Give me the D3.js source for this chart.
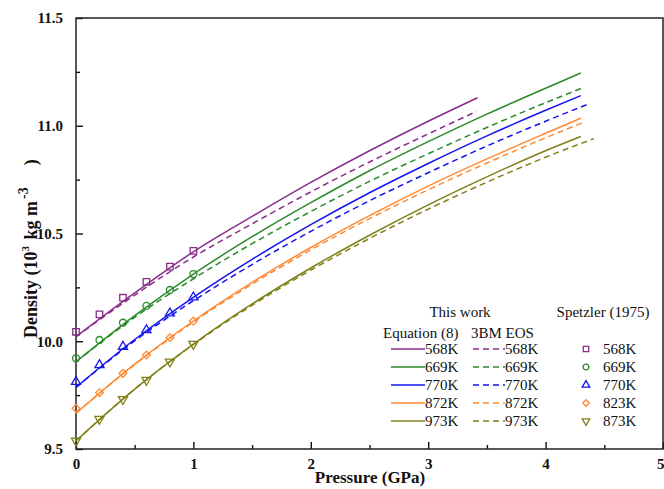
<!DOCTYPE html>
<html><head><meta charset="utf-8">
<script src="https://cdn.jsdelivr.net/npm/d3@7"></script>
<style>
body{margin:0;background:#fff;}
svg text{font-family:"Liberation Serif","Times New Roman",serif;}
</style></head>
<body><svg id="c" width="664" height="489"></svg>
<script>
// ---- data ----
const temps = ["568K","669K","770K","872K","973K"];
const spetzTemps = ["568K","669K","770K","823K","873K"];
const colors = ["#8b2c8b","#2a8a2a","#1414f0","#ff8a33","#808018"];

// Equation (8) solid lines: pressure (GPa) and density (10^3 kg m^-3)
const eqP = [
  [0,0.5,1,1.5,2,2.5,3,3.42],
  [0,0.5,1,1.5,2,2.5,3,3.5,4,4.3],
  [0,0.5,1,1.5,2,2.5,3,3.5,4,4.3],
  [0,0.5,1,1.5,2,2.5,3,3.5,4,4.3],
  [0,0.5,1,1.5,2,2.5,3,3.5,4,4.3]
];
const eqRho = [
  [10.021,10.224,10.415,10.579,10.737,10.884,11.021,11.130],
  [9.905,10.119,10.312,10.485,10.643,10.791,10.926,11.054,11.174,11.245],
  [9.786,10.008,10.204,10.380,10.541,10.689,10.825,10.953,11.072,11.140],
  [9.666,9.894,10.094,10.273,10.435,10.583,10.720,10.846,10.965,11.035],
  [9.538,9.778,9.987,10.173,10.340,10.492,10.633,10.763,10.884,10.950]
];
// 3BM EOS dashed lines
const bmP = [
  [0,0.5,1,1.5,2,2.5,3,3.41],
  [0,0.5,1,1.5,2,2.5,3,3.5,4,4.32],
  [0,0.5,1,1.5,2,2.5,3,3.5,4,4.36],
  [0,0.5,1,1.5,2,2.5,3,3.5,4,4.32],
  [0,0.5,1,1.5,2,2.5,3,3.5,4,4.41]
];
const bmRho = [
  [10.021,10.214,10.391,10.545,10.693,10.832,10.962,11.066],
  [9.905,10.111,10.290,10.453,10.602,10.742,10.870,10.992,11.107,11.177],
  [9.786,10.002,10.188,10.356,10.510,10.652,10.782,10.906,11.021,11.100],
  [9.666,9.892,10.089,10.265,10.424,10.569,10.703,10.827,10.944,11.015],
  [9.538,9.778,9.985,10.167,10.330,10.477,10.613,10.738,10.854,10.940]
];
// Spetzler (1975) points
const spP = [0,0.2,0.4,0.6,0.8,1.0];
const spRho = [
  [10.044,10.125,10.202,10.276,10.346,10.419],
  [9.921,10.006,10.086,10.164,10.238,10.312],
  [9.812,9.890,9.975,10.052,10.130,10.204],
  [9.689,9.761,9.851,9.936,10.016,10.094],
  [9.538,9.639,9.731,9.820,9.905,9.987]
];
const symbols = [d3.symbolSquare, d3.symbolCircle, d3.symbolTriangle, d3.symbolSquare, d3.symbolTriangle];
const symSize = [42, 38, 36, 30, 36];
const symRot = [0,0,0,45,180];
const xTicks = [0,1,2,3,4,5];
const yTicks = [9.5,10.0,10.5,11.0,11.5];

// ---- layout ----
const L=76, R=663, T=18, B=449;
const svg = d3.select("#c");
const x = d3.scaleLinear().domain([0,5]).range([L,R]);
const y = d3.scaleLinear().domain([9.5,11.5]).range([B,T]);

// axes
const gx = svg.append("g").attr("transform",`translate(0,${B})`)
  .call(d3.axisBottom(x).tickValues(xTicks).tickFormat(d3.format("d")).tickSize(-7).tickPadding(12));
const gxm = svg.append("g").attr("transform",`translate(0,${B})`)
  .call(d3.axisBottom(x).tickValues([0.5,1.5,2.5,3.5,4.5]).tickFormat("").tickSize(-4));
const gy = svg.append("g").attr("transform",`translate(${L},0)`)
  .call(d3.axisLeft(y).tickValues(yTicks).tickFormat(d3.format(".1f")).tickSize(-7).tickPadding(13));
const gym = svg.append("g").attr("transform",`translate(${L},0)`)
  .call(d3.axisLeft(y).tickValues([9.75,10.25,10.75,11.25]).tickFormat("").tickSize(-4));
[gx,gxm,gy,gym].forEach(g=>{
  g.select(".domain").remove();
  g.selectAll(".tick line").attr("stroke","#111").attr("stroke-width",1.4);
  g.selectAll("text").attr("fill","#111").attr("font-size",15).attr("font-weight","bold")
   .style("font-family",'"Liberation Serif","Times New Roman",serif');
});
gx.selectAll("text").attr("dy","0.5em");
// keep the last x label inside the picture
gx.selectAll(".tick").filter(d=>d===5).select("text").attr("text-anchor","end").attr("x",1);

// frame
svg.append("rect").attr("x",L).attr("y",T).attr("width",R-L).attr("height",B-T)
  .attr("fill","none").attr("stroke","#222").attr("stroke-width",1.5);

// lines
const line = d3.line().x(d=>x(d[0])).y(d=>y(d[1])).curve(d3.curveMonotoneX);
const plot = svg.append("g");
temps.forEach((t,i)=>{
  plot.append("path").datum(bmP[i].map((p,j)=>[p,bmRho[i][j]]))
    .attr("d",line).attr("fill","none").attr("stroke",colors[i]).attr("stroke-width",1.5)
    .attr("stroke-dasharray","6,4");
  plot.append("path").datum(eqP[i].map((p,j)=>[p,eqRho[i][j]]))
    .attr("d",line).attr("fill","none").attr("stroke",colors[i]).attr("stroke-width",1.5);
});
// markers
spRho.forEach((arr,i)=>{
  const sym = d3.symbol().type(symbols[i]).size(symSize[i]);
  plot.selectAll(null).data(spP.map((p,j)=>[p,arr[j]])).join("path")
    .attr("d",sym).attr("transform",d=>`translate(${x(d[0])},${y(d[1])}) rotate(${symRot[i]})`)
    .attr("fill","none").attr("stroke",colors[i]).attr("stroke-width",1.3);
});

// axis titles
svg.append("text").attr("x",370).attr("y",483).attr("text-anchor","middle")
  .attr("font-size",17).attr("font-weight","bold").attr("fill","#111").text("Pressure (GPa)");
const yt = svg.append("text").attr("transform","translate(37,338) rotate(-90)")
  .attr("text-anchor","start").attr("font-size",18).attr("font-weight","bold").attr("fill","#111");
yt.append("tspan").text("Density (10");
yt.append("tspan").attr("dy",-8).attr("font-size",11).text("3");
yt.append("tspan").attr("dy",8).attr("dx",2).text(" kg m");
yt.append("tspan").attr("dy",-9).attr("dx",2).attr("font-size",14).text("-3");
yt.append("tspan").attr("dy",9).attr("dx",22).text(")");

// legend
const lg = svg.append("g").attr("font-size",15).attr("fill","#111");
lg.append("text").attr("x",460).attr("y",317).attr("text-anchor","middle").text("This work");
lg.append("text").attr("x",603).attr("y",317).attr("text-anchor","middle").text("Spetzler (1975)");
lg.append("text").attr("x",383).attr("y",338).text("Equation (8)");
lg.append("text").attr("x",471).attr("y",338).text("3BM EOS");
const rowY = [349,367,385,403,421];
temps.forEach((t,i)=>{
  const yy = rowY[i];
  lg.append("line").attr("x1",391).attr("x2",425).attr("y1",yy).attr("y2",yy)
    .attr("stroke",colors[i]).attr("stroke-width",1.5);
  lg.append("text").attr("x",425).attr("y",yy+5).text(t);
  lg.append("line").attr("x1",473).attr("x2",505).attr("y1",yy).attr("y2",yy)
    .attr("stroke",colors[i]).attr("stroke-width",1.5).attr("stroke-dasharray","6,4");
  lg.append("text").attr("x",505).attr("y",yy+5).text(t);
  const sym = d3.symbol().type(symbols[i]).size(symSize[i]*0.7);
  lg.append("path").attr("d",sym).attr("transform",`translate(586,${yy}) rotate(${symRot[i]})`)
    .attr("fill","none").attr("stroke",colors[i]).attr("stroke-width",1.3);
  lg.append("text").attr("x",603).attr("y",yy+5).text(spetzTemps[i]);
});
</script></body></html>
